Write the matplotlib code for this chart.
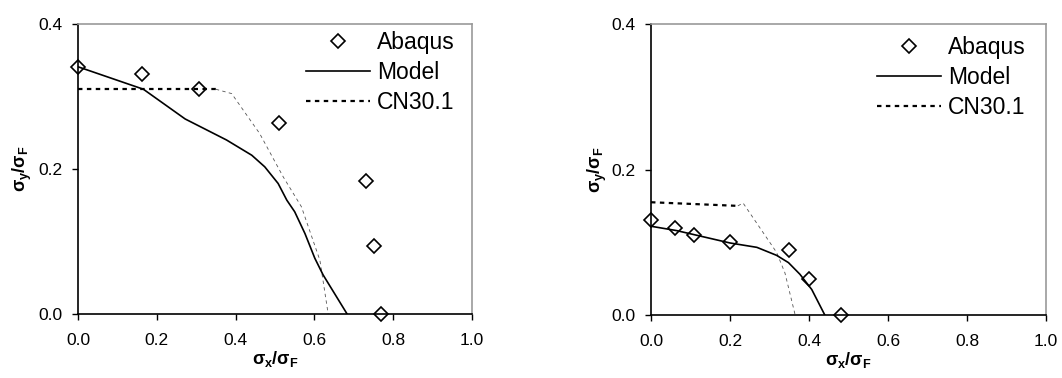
import matplotlib
matplotlib.use("Agg")
import matplotlib.pyplot as plt
from matplotlib.ticker import FormatStrFormatter

plt.rcParams['font.family'] = ['Liberation Sans', 'DejaVu Sans']
plt.rcParams['mathtext.fontset'] = 'custom'
plt.rcParams['mathtext.rm'] = 'Liberation Sans'
plt.rcParams['mathtext.it'] = 'Liberation Sans:italic'
plt.rcParams['mathtext.bf'] = 'Liberation Sans:bold'

# ---- Left panel data ----
left_abaqus_x = [0.0, 0.163, 0.307, 0.511, 0.732, 0.751, 0.770]
left_abaqus_y = [0.341, 0.331, 0.311, 0.264, 0.183, 0.094, 0.0]
left_model_x = [0.0, 0.166, 0.272, 0.377, 0.441, 0.474, 0.508, 0.530, 0.550, 0.576, 0.601, 0.622, 0.683]
left_model_y = [0.341, 0.310, 0.269, 0.240, 0.219, 0.203, 0.180, 0.157, 0.141, 0.111, 0.077, 0.054, 0.0]
left_cn_x = [0.0, 0.35, 0.39, 0.461, 0.521, 0.567, 0.614, 0.635]
left_cn_y = [0.310, 0.310, 0.304, 0.249, 0.189, 0.148, 0.074, 0.0]
left_cn_kink = 2  # index where the descending branch begins

# ---- Right panel data ----
right_abaqus_x = [0.0, 0.061, 0.110, 0.200, 0.350, 0.401, 0.481]
right_abaqus_y = [0.131, 0.120, 0.110, 0.101, 0.089, 0.050, 0.0]
right_model_x = [0.0, 0.065, 0.200, 0.268, 0.318, 0.348, 0.377, 0.407, 0.440]
right_model_y = [0.122, 0.116, 0.099, 0.093, 0.082, 0.072, 0.056, 0.035, 0.0]
right_cn_x = [0.0, 0.22, 0.233, 0.318, 0.339, 0.365]
right_cn_y = [0.155, 0.150, 0.154, 0.086, 0.058, 0.0]
right_cn_kink = 2

x_ticks = [0.0, 0.2, 0.4, 0.6, 0.8, 1.0]
y_ticks = [0.0, 0.2, 0.4]

W, H = 1062, 378
fig = plt.figure(figsize=(W / 100, H / 100), dpi=100)

def make_axes(px_left, px_right, px_top, px_bottom):
    return fig.add_axes([px_left / W, 1 - px_bottom / H,
                         (px_right - px_left) / W, (px_bottom - px_top) / H])

axL = make_axes(78, 472, 24, 314)
axR = make_axes(651, 1046, 24, 315)

def draw(ax, ax_x, ax_y, m_x, m_y, c_x, c_y, kink, leg_px, ylab_x):
    ax.plot(m_x, m_y, color='black', lw=1.2, label='Model', zorder=3)
    ax.plot(c_x[:kink], c_y[:kink], color='black', lw=1.6,
            linestyle=(0, (2.0, 2.0)), label='CN30.1', zorder=2)
    ax.plot(c_x[kink - 1:], c_y[kink - 1:], color='#555555', lw=0.6,
            linestyle=(0, (4, 4)), zorder=2)
    ax.plot(ax_x, ax_y, linestyle='none', marker='D', markersize=7.5,
            markerfacecolor='none', markeredgecolor='black',
            markeredgewidth=1.2, label='Abaqus', zorder=4, clip_on=False)
    ax.set_xlim(0, 1.0)
    ax.set_ylim(0, 0.4)
    ax.set_xticks(x_ticks)
    ax.set_yticks(y_ticks)
    ax.xaxis.set_major_formatter(FormatStrFormatter('%.1f'))
    ax.yaxis.set_major_formatter(FormatStrFormatter('%.1f'))
    ax.tick_params(direction='out', length=4, width=1, labelsize=12.5,
                   colors='black')
    ax.tick_params(axis='x', pad=10)
    ax.tick_params(axis='y', pad=7)
    for s in ('top', 'right'):
        ax.spines[s].set_color('#999999')
        ax.spines[s].set_linewidth(1.2)
    for s in ('left', 'bottom'):
        ax.spines[s].set_color('black')
        ax.spines[s].set_linewidth(1.2)
    ax.set_xlabel(r'$\mathbf{σ}_{\mathbf{x}}\mathbf{/σ}_{\mathbf{F}}$', fontsize=13)
    ax.set_ylabel(r'$\mathbf{σ}_{\mathbf{y}}\mathbf{/σ}_{\mathbf{F}}$', fontsize=13)
    ax.xaxis.set_label_coords(0.5, -0.155)
    ax.xaxis.label.set_va('center')
    ax.yaxis.set_label_coords(ylab_x, 0.5)
    ax.yaxis.label.set_va('center')
    handles, labels = ax.get_legend_handles_labels()
    order = [labels.index('Abaqus'), labels.index('Model'), labels.index('CN30.1')]
    ax.legend([handles[i] for i in order], [labels[i] for i in order],
              loc='upper left', bbox_to_anchor=(leg_px[0] / W, 1 - leg_px[1] / H),
              bbox_transform=fig.transFigure, frameon=False, fontsize=16.5,
              handlelength=2.8, handletextpad=0.3, labelspacing=0.3,
              borderpad=0, borderaxespad=0)

draw(axL, left_abaqus_x, left_abaqus_y, left_model_x, left_model_y,
     left_cn_x, left_cn_y, left_cn_kink, (306, 31), -0.14)
draw(axR, right_abaqus_x, right_abaqus_y, right_model_x, right_model_y,
     right_cn_x, right_cn_y, right_cn_kink, (877, 36), -0.136)

fig.savefig('out.png', dpi=100)
